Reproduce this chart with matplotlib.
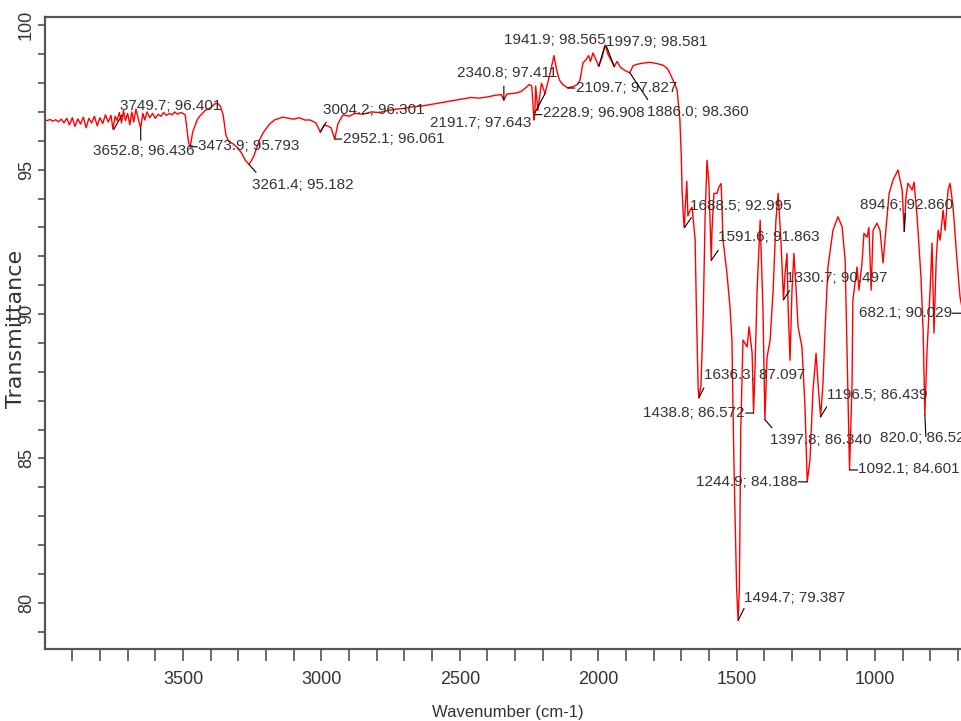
import matplotlib
matplotlib.use('Agg')
import matplotlib.pyplot as plt
from matplotlib.ticker import FixedLocator

# spectrum (wavenumber cm-1, transmittance %)
wavenumber = [
    4000, 3990, 3980, 3970, 3960, 3950, 3940, 3930, 3920, 3910, 3900, 3890, 3880, 3870,
    3860, 3850, 3840, 3830, 3820, 3810, 3800, 3790, 3780, 3770, 3760, 3753, 3745, 3738,
    3730, 3722, 3715, 3708, 3700, 3692, 3685, 3678, 3670, 3660, 3653, 3645, 3638, 3630,
    3620, 3610, 3600, 3590, 3580, 3570, 3560, 3550, 3540, 3530, 3520, 3510, 3500, 3492,
    3480, 3474, 3465, 3450, 3440, 3420, 3400, 3385, 3375, 3365, 3355, 3345, 3335, 3320,
    3305, 3290, 3275, 3261, 3245, 3225, 3211, 3190, 3170, 3140, 3120, 3100, 3080, 3060,
    3040, 3020, 3004, 2990, 2975, 2965, 2952, 2940, 2922, 2900, 2880, 2850, 2820, 2790,
    2760, 2730, 2700, 2670, 2640, 2610, 2580, 2550, 2520, 2490, 2460, 2430, 2400, 2370,
    2350, 2341, 2330, 2300, 2280, 2260, 2250, 2240, 2232, 2229, 2226, 2218, 2205, 2192,
    2180, 2170, 2160, 2150, 2140, 2128, 2110, 2090, 2075, 2066, 2055, 2045, 2035, 2028,
    2019, 2010, 1998, 1986, 1975, 1965, 1950, 1942, 1932, 1920, 1906, 1892, 1886, 1874,
    1860, 1838, 1815, 1790, 1766, 1750, 1741, 1725, 1715, 1705, 1700, 1697, 1692, 1688.5,
    1686, 1680, 1676, 1668, 1661, 1650, 1645, 1639, 1636.3, 1629, 1621, 1614, 1607, 1600,
    1591.6, 1589, 1582, 1571, 1564, 1556, 1549, 1535, 1524, 1517, 1510, 1500, 1494.7, 1490,
    1485, 1477, 1462, 1455, 1444, 1438.8, 1434, 1426, 1415, 1405, 1397.8, 1390, 1379, 1368,
    1358, 1350, 1340, 1330.7, 1325, 1318, 1314, 1307, 1300, 1293, 1285, 1278, 1264, 1253,
    1244.9, 1235, 1224, 1213, 1206, 1196.5, 1188, 1181, 1170, 1152, 1134, 1119, 1108, 1101,
    1092.1, 1083, 1080, 1065, 1058, 1047, 1040, 1029, 1022, 1014, 1007, 993, 982, 971,
    960, 949, 935, 917, 902, 894.6, 888, 881, 866, 859, 848, 834, 826, 820, 812, 801, 794,
    787, 779, 772, 765, 754, 747, 736, 729, 718, 704, 693, 682.1, 670,
]
transmittance = [
    96.72, 96.70, 96.74, 96.68, 96.73, 96.66, 96.75, 96.62, 96.78, 96.55, 96.80, 96.50, 96.76, 96.58,
    96.82, 96.45, 96.78, 96.62, 96.85, 96.52, 96.80, 96.60, 96.90, 96.65, 96.88, 96.40, 96.85, 96.70,
    96.98, 96.62, 97.05, 96.70, 96.95, 96.55, 97.00, 96.65, 97.10, 96.70, 96.44, 96.95, 96.72, 97.00,
    96.80, 96.95, 96.78, 96.92, 96.85, 96.98, 96.88, 96.95, 96.90, 97.00, 96.92, 96.98, 96.95, 96.90,
    95.95, 95.79, 96.30, 96.70, 96.85, 97.05, 97.15, 97.28, 97.30, 97.20, 96.90, 96.20, 95.98, 95.90,
    95.78, 95.60, 95.33, 95.18, 95.45, 96.00, 96.27, 96.55, 96.72, 96.82, 96.78, 96.75, 96.80, 96.72,
    96.72, 96.62, 96.30, 96.55, 96.50, 96.45, 96.06, 96.60, 96.90, 96.85, 96.95, 96.92, 97.00, 96.98,
    97.05, 97.10, 97.12, 97.18, 97.20, 97.25, 97.30, 97.35, 97.40, 97.45, 97.50, 97.48, 97.52, 97.58,
    97.60, 97.41, 97.62, 97.65, 97.70, 97.85, 97.95, 97.90, 96.72, 96.91, 97.90, 97.05, 98.00, 97.64,
    98.10, 98.50, 98.95, 98.45, 98.10, 97.95, 97.83, 97.88, 97.95, 98.10, 98.70, 98.80, 98.95, 98.75,
    99.04, 98.85, 98.58, 98.90, 99.32, 99.00, 98.73, 98.57, 98.75, 98.55, 98.45, 98.38, 98.36, 98.60,
    98.65, 98.69, 98.72, 98.68, 98.62, 98.50, 98.34, 98.00, 97.76, 96.72, 95.50, 94.30, 93.30, 92.995,
    93.60, 94.60, 93.40, 93.60, 93.70, 92.60, 90.00, 87.47, 87.097, 87.50, 89.82, 93.30, 95.33, 94.52,
    91.863, 92.90, 94.18, 94.18, 94.40, 94.52, 92.56, 91.41, 90.25, 89.10, 85.00, 80.50, 79.387, 80.50,
    86.00, 89.10, 88.86, 89.56, 88.65, 86.572, 87.96, 90.83, 93.25, 90.25, 86.34, 88.50, 89.10, 90.83,
    93.25, 94.18, 92.56, 90.497, 91.40, 92.10, 90.25, 88.40, 90.83, 92.10, 90.83, 89.56, 88.86, 86.80,
    84.188, 84.95, 87.37, 88.64, 87.60, 86.439, 87.60, 89.34, 91.63, 92.90, 93.37, 93.03, 91.88, 88.75,
    84.601, 87.60, 90.49, 91.63, 90.83, 91.77, 92.80, 92.66, 93.00, 90.83, 92.90, 93.15, 92.90, 91.77,
    93.00, 94.18, 94.64, 94.99, 94.30, 92.86, 94.07, 94.53, 94.30, 94.57, 93.37, 91.28, 89.34, 86.52, 88.75, 90.83, 92.46,
    89.34, 91.88, 92.90, 92.56, 93.60, 92.90, 94.30, 94.53, 93.71, 91.88, 90.60, 90.029, 89.60,
]

# picked peaks
peak_wn = [3749.7, 3652.8, 3473.9, 3261.4, 3004.2, 2952.1, 2340.8, 2228.9, 2191.7, 2109.7,
           1997.9, 1941.9, 1886.0, 1688.5, 1636.3, 1591.6, 1494.7, 1438.8, 1397.8, 1330.7,
           1244.9, 1196.5, 1092.1, 894.6, 820.0, 682.1]
peak_t = [96.401, 96.436, 95.793, 95.182, 96.301, 96.061, 97.411, 96.908, 97.643, 97.827,
          98.581, 98.565, 98.360, 92.995, 87.097, 91.863, 79.387, 86.572, 86.340, 90.497,
          84.188, 86.439, 84.601, 92.860, 86.520, 90.029]

# where each label sits (pixels from the peak): leader end, text, alignment
label_pos = [
    ((8, 14), (6, 23), 'left'), ((0, -12), (-48, -23), 'left'), ((7, 0), (8, 1), 'left'),
    ((7, -8), (3, -21), 'left'), ((6, 10), (3, 22), 'left'), ((7, 0), (8, 0), 'left'),
    ((0, 14), (-47, 27), 'left'), ((7, 0), (8, 2), 'left'), ((-10, -19), (-14, -30), 'right'),
    ((7, 0), (8, 0), 'left'), ((6, 20), (7, 24), 'left'), ((-8, 21), (-9, 27), 'right'),
    ((18, -27), (17, -39), 'left'), ((7, 10), (6, 22), 'left'), ((5, 10), (5, 23), 'left'),
    ((7, 10), (7, 23), 'left'), ((6, 12), (6, 22), 'left'), ((-8, 0), (-9, 0), 'right'),
    ((7, -8), (5, -20), 'left'), ((6, 9), (3, 22), 'left'), ((-9, 0), (-10, 0), 'right'),
    ((6, 10), (6, 22), 'left'), ((8, 0), (8, 1), 'left'), ((1, 18), (-44, 26), 'left'),
    ((1, -22), (-45, -23), 'left'), ((-11, 0), (-11, 0), 'right'),
]

fig = plt.figure(figsize=(9.61, 7.21), dpi=100)
ax = fig.add_axes([0.0464, 0.0999, 0.9536, 0.8766])

ax.plot(wavenumber, transmittance, color='#ff0000', lw=1.0)

for w, t, (lead, txt, ha) in zip(peak_wn, peak_t, label_pos):
    ax.annotate('', xy=(w, t), xytext=lead, textcoords='offset pixels',
                arrowprops=dict(arrowstyle='-', color='black', lw=0.8, shrinkA=0, shrinkB=0),
                annotation_clip=False)
    ax.annotate(f'{w:.1f}; {t:.3f}', xy=(w, t), xytext=txt, textcoords='offset pixels',
                ha=ha, va='center', fontsize=11, family='Liberation Sans', color='#333333',
                annotation_clip=False)

ax.set_xlim(4000, 689.4)
ax.set_ylim(78.40, 100.29)

ax.xaxis.set_major_locator(FixedLocator([3500, 3000, 2500, 2000, 1500, 1000]))
ax.xaxis.set_minor_locator(FixedLocator(list(range(3900, 650, -100))))
ax.yaxis.set_major_locator(FixedLocator([80, 85, 90, 95, 100]))
ax.yaxis.set_minor_locator(FixedLocator(list(range(79, 101))))

ax.tick_params(axis='x', which='both', direction='out', length=8.6, width=1.1,
               color='#444444', pad=7)
ax.tick_params(axis='x', which='major', labelsize=13, labelcolor='#333333')
ax.tick_params(axis='y', which='both', direction='out', length=5, width=1.1,
               color='#444444', pad=2)
ax.tick_params(axis='y', which='major', labelsize=13, labelcolor='#333333', labelrotation=90)
for lab in ax.get_xticklabels():
    lab.set_family('Liberation Sans')
for lab in ax.get_yticklabels():
    lab.set_family('Liberation Sans')
    lab.set_va('center')

for side in ['left', 'bottom', 'top']:
    ax.spines[side].set_color('#555555')
    ax.spines[side].set_linewidth(1.6)
ax.spines['right'].set_visible(False)

fig.text(16 / 961, 1 - 329 / 721, 'Transmittance', rotation=90, ha='center', va='center',
         fontsize=16, family='DejaVu Sans', color='#333333')
fig.text(508 / 961, 1 - 712 / 721, 'Wavenumber (cm-1)', ha='center', va='center',
         fontsize=12, family='Liberation Sans', color='#333333')

fig.savefig('out.png', dpi=100)
